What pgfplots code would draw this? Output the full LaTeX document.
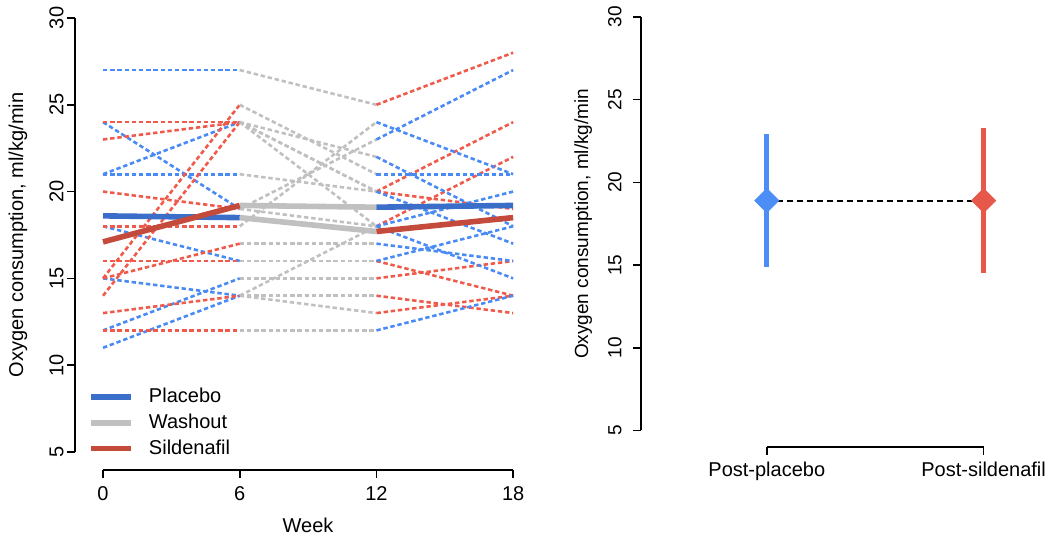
\documentclass[border=0pt]{standalone}
\usepackage{fontspec}
\setmainfont{Liberation Sans}
\usepackage{pgfplots}
\usepackage{pgfplotstable}
\pgfplotsset{compat=1.18}

\definecolor{dblue}{RGB}{74,138,244}
\definecolor{tblue}{RGB}{58,110,200}
\definecolor{dred}{RGB}{240,90,75}
\definecolor{tred}{RGB}{196,74,60}
\definecolor{wgrey}{RGB}{192,192,192}
\definecolor{rblue}{RGB}{76,141,246}
\definecolor{rred}{RGB}{230,88,74}

% placebo first: placebo 0-6, washout 6-12, sildenafil 12-18
\pgfplotstableread{
week A1 A2 A3 A4 A5 A6 A7 A8
0  27 24 21 21 18 15 12 11
6  27 19 24 21 16 14 15 14
12 25 18 20 20 16 14 15 13
18 28 22 24 19 14 13 16 14
}\groupA

% sildenafil first: sildenafil 0-6, washout 6-12, placebo 12-18
\pgfplotstableread{
week B1 B2 B3 B4 B5 B6 B7 B8 B9 B10
0  24 23 20 18 16 15 14 15 13 12
6  24 24 19 18 16 25 24 17 14 12
12 20 22 23 24 16 21 18 17 18 12
18 17 18 27 21 18 21 15 16 20 14
}\groupB

% group means
\pgfplotstableread{
week A B
0  18.6 17.1
6  18.5 19.2
12 17.7 19.1
18 18.5 19.2
}\means

\pgfplotsset{
  panel/.style={
    scale only axis, clip=false,
    axis line style={draw=none},
    tick align=outside, major tick length=4pt,
    xtick pos=bottom, ytick pos=left,
    tick style={black, line width=0.8pt},
    /pgf/number format/assume math mode=true,
    ytick={5,10,...,30},
    yticklabel style={rotate=90, anchor=south, inner sep=0pt},
    xticklabel style={anchor=north, inner sep=0pt},
  },
  dsh/.style={line width=1.3pt, dash pattern=on 2.2pt off 1.4pt},
  p1/.style={restrict x to domain=0:6},
  p2/.style={restrict x to domain=6:12},
  p3/.style={restrict x to domain=12:18},
}

\begin{document}
\begin{tikzpicture}
\useasboundingbox (0,0) rectangle (525pt,274.5pt);

\begin{axis}[panel,
  at={(37.5pt,39.5pt)}, anchor=south west,
  width=225.9pt, height=226pt,
  xmin=-1.23, xmax=18.6, ymin=3.96, ymax=30,
  xtick={0,6,12,18},
  ticklabel style={font=\fontsize{10}{12}\selectfont},
  yticklabel shift=1.5pt, xticklabel shift=4pt,
  xlabel={Week}, ylabel={Oxygen consumption, ml/kg/min},
  label style={font=\fontsize{10}{12}\selectfont},
  xlabel style={at={(axis cs:9,3.96)}, anchor=north, yshift=-24pt, inner sep=0pt},
  ylabel style={at={(axis description cs:-0.126,0.52)}, anchor=center, inner sep=0pt},
  legend cell align=left,
  legend style={at={(axis cs:-0.66,6.68)}, anchor=west, draw=none, fill=none,
    inner sep=0pt, font=\fontsize{10}{12}\selectfont, row sep=4.2pt,
    nodes={inner sep=0pt},
    /tikz/every odd column/.append style={column sep=7.5pt}},
  legend image code/.code={\draw[#1] (0pt,0pt) -- (20pt,0pt);},
]
\draw[line width=0.8pt] (axis cs:-1.23,5) -- (axis cs:-1.23,30);
\draw[line width=0.8pt] (axis cs:0,3.96) -- (axis cs:18,3.96);

\pgfplotsinvokeforeach{A1,A2,A3,A4,A5,A6,A7,A8}{
  \addplot[dsh, dblue, p1, forget plot] table[x=week, y=#1]{\groupA};
  \addplot[dsh, wgrey, p2, forget plot] table[x=week, y=#1]{\groupA};
  \addplot[dsh, dred,  p3, forget plot] table[x=week, y=#1]{\groupA};
}
\pgfplotsinvokeforeach{B1,B2,B3,B4,B5,B6,B7,B8,B9,B10}{
  \addplot[dsh, dred,  p1, forget plot] table[x=week, y=#1]{\groupB};
  \addplot[dsh, wgrey, p2, forget plot] table[x=week, y=#1]{\groupB};
  \addplot[dsh, dblue, p3, forget plot] table[x=week, y=#1]{\groupB};
}

\addplot[wgrey, line width=2.8pt, p2, forget plot] table[x=week, y=A]{\means};
\addplot[wgrey, line width=2.8pt, p2, forget plot] table[x=week, y=B]{\means};
\addplot[tblue, line width=2.8pt, p1, forget plot] table[x=week, y=A]{\means};
\addplot[tblue, line width=2.8pt, p3, forget plot] table[x=week, y=B]{\means};
\addplot[tred,  line width=2.8pt, p1, forget plot] table[x=week, y=B]{\means};
\addplot[tred,  line width=2.8pt, p3, forget plot] table[x=week, y=A]{\means};

\addlegendimage{tblue, line width=2.8pt}
\addlegendentry{Placebo}
\addlegendimage{wgrey, line width=2.8pt}
\addlegendentry{Washout}
\addlegendimage{tred, line width=2.8pt}
\addlegendentry{Sildenafil}
\end{axis}

\begin{axis}[panel,
  at={(320.5pt,51pt)}, anchor=south west,
  width=193pt, height=215pt,
  xmin=0.42, xmax=2.2, ymin=4, ymax=30,
  xtick={1,2}, xticklabels={Post-placebo,Post-sildenafil},
  yticklabel style={font=\fontsize{9.5}{11}\selectfont},
  xticklabel style={font=\fontsize{10}{12}\selectfont},
  yticklabel shift=5.5pt, xticklabel shift=3.5pt,
  ylabel={Oxygen consumption, ml/kg/min},
  ylabel style={font=\fontsize{9.5}{11}\selectfont,
    at={(axis description cs:-0.150,0.519)}, anchor=center, inner sep=0pt},
]
\draw[line width=0.8pt] (axis cs:0.42,5) -- (axis cs:0.42,30);
\draw[line width=0.8pt] (axis cs:1,4) -- (axis cs:2,4);

\addplot[black, line width=1pt, dash pattern=on 3pt off 2pt] coordinates {(1,18.9) (2,18.9)};
\addplot[rblue, line width=2.5pt] coordinates {(1,14.9) (1,22.9)};
\addplot[rred, line width=2.5pt] coordinates {(2,14.5) (2,23.3)};
\addplot[only marks, mark=diamond*, mark size=6pt, mark options={rblue, xscale=1.333}] coordinates {(1,18.9)};
\addplot[only marks, mark=diamond*, mark size=6pt, mark options={rred, xscale=1.333}] coordinates {(2,18.9)};
\end{axis}
\end{tikzpicture}
\end{document}
